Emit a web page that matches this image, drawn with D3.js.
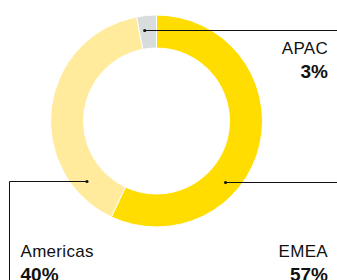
<!DOCTYPE html>
<html>
<head>
<meta charset="utf-8">
<script src="https://cdn.jsdelivr.net/npm/d3@7"></script>
<style>
  body { margin: 0; background: #fff; }
  svg { display: block; font-family: "Liberation Sans", Arial, Helvetica, sans-serif; }
</style>
</head>
<body>
<svg id="chart" width="337" height="280"></svg>
<script>
// data
var regions = ["EMEA", "Americas", "APAC"],
    shares = [57, 40, 3],
    colors = ["#ffdd00", "#ffeb9b", "#d9dcdd"];

var svg = d3.select("#chart"),
    width = 337, height = 280,
    cx = 156.5, cy = 121,
    outerR = 106, innerR = 73, anchorR = 92;

var data = regions.map(function(r, i) { return {region: r, share: shares[i]}; });

var color = d3.scaleOrdinal().domain(regions).range(colors);

var pie = d3.pie()
    .sort(null)
    .value(function(d) { return d.share; });

var arc = d3.arc()
    .innerRadius(innerR)
    .outerRadius(outerR);

var g = svg.append("g")
    .attr("transform", "translate(" + cx + "," + cy + ")");

var arcs = pie(data);

g.selectAll(".slice")
  .data(arcs)
  .enter().append("path")
    .attr("class", "slice")
    .attr("d", arc)
    .attr("fill", function(d) { return color(d.data.region); })
    .attr("stroke", "#fff")
    .attr("stroke-width", 1);

// label layout: where in the slice the leader starts, which side the label sits
var labelLayout = {
  EMEA:     {f: 0.64, side: "right", y: 257},
  Americas: {f: 0.166, side: "left", y: 257},
  APAC:     {f: 0.32, side: "right", y: 53.5}
};

arcs.forEach(function(d) {
  var L = labelLayout[d.data.region];
  var a = d.startAngle + L.f * (d.endAngle - d.startAngle);
  var p = d3.pointRadial(a, anchorR);
  var px = cx + p[0], py = Math.round(cy + p[1]) + 0.5;

  if (L.side == "right") {
    svg.append("path")
      .attr("d", "M" + px + "," + py + "H" + width)
      .attr("fill", "none")
      .attr("stroke", "#111")
      .attr("stroke-width", 1);
  } else {
    svg.append("path")
      .attr("d", "M" + px + "," + py + "H9.5V" + height)
      .attr("fill", "none")
      .attr("stroke", "#111")
      .attr("stroke-width", 1);
  }
  svg.append("circle")
    .attr("cx", px).attr("cy", py).attr("r", 1.6)
    .attr("fill", "#111");

  var tx = L.side == "right" ? 328 : 20.5,
      anchor = L.side == "right" ? "end" : "start";

  svg.append("text")
    .attr("x", tx).attr("y", L.y)
    .attr("text-anchor", anchor)
    .attr("font-size", 17)
    .attr("letter-spacing", 0.3)
    .attr("fill", "#111")
    .text(d.data.region);

  svg.append("text")
    .attr("x", tx).attr("y", L.y + 24)
    .attr("text-anchor", anchor)
    .attr("font-size", 19)
    .attr("font-weight", "bold")
    .attr("fill", "#111")
    .text(d.data.share + "%");
});
</script>
</body>
</html>
